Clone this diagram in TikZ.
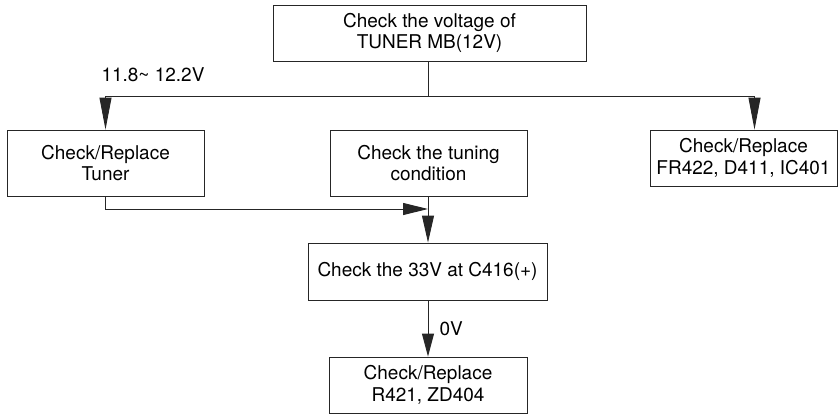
\documentclass[tikz,border=0pt]{standalone}
\usepackage{fontspec}
\setmainfont{TeX Gyre Heros}
\usepackage{tikz}
\usetikzlibrary{arrows.meta,positioning}

\begin{document}
\begin{tikzpicture}[
  font=\fontsize{10.8}{12.4}\selectfont, >={Triangle[length=5mm,width=2.4mm]},
  line width=0.5pt, draw=black!85,
  box/.style={draw=black!85, align=center, inner sep=2pt},
  check/.style={box, minimum width=3.94cm, minimum height=1.32cm},
  repl/.style={box, minimum height=1.12cm}]
\useasboundingbox (0,0) rectangle (16.8,-8.28);
% ---- first check and the split
\node[box, minimum width=6.26cm, minimum height=1.12cm] (top) at (8.59,-0.66) {Check the voltage of\\TUNER MB(12V)};
\node[check] (tuner) at (2.11,-3.26) {Check/Replace\\Tuner};
\node[check] (tuning) at (8.57,-3.26) {Check the tuning\\condition};
\node[repl, minimum width=3.74cm] (fr) at (14.87,-3.16) {Check/Replace\\FR422, D411, IC401};
\node (volt) at (3.06,-1.50) {11.8\textasciitilde{} 12.2V};
\coordinate (split) at (8.56,-1.92);
\draw (top.south -| split) -- (split);
\draw[->, >={Triangle[length=6.4mm,width=2.4mm]}] (split) -| (tuner.north);
\draw[->, >={Triangle[length=6.4mm,width=2.4mm]}] (split) -| ([xshift=2.2mm]fr.north);
% ---- 33V check
\node[repl, minimum width=4.78cm, minimum height=1.14cm] (c416) at (8.55,-5.43) {Check the 33V at C416(+)};
\node[repl, minimum width=3.96cm] (rzd) at (8.56,-7.70) {Check/Replace\\R421, ZD404};
\coordinate (join) at (8.56,-4.18);
\draw[->] (tuner.south) |- (join);
\draw[->, >={Triangle[length=5.4mm,width=2.4mm]}] (tuning.south -| join) -- (c416.north -| join);
\draw[->, >={Triangle[length=4.6mm,width=2.4mm]}] (c416.south -| join) -- node[right=3pt] (zero) {0V} (rzd.north -| join);
\end{tikzpicture}
\end{document}
